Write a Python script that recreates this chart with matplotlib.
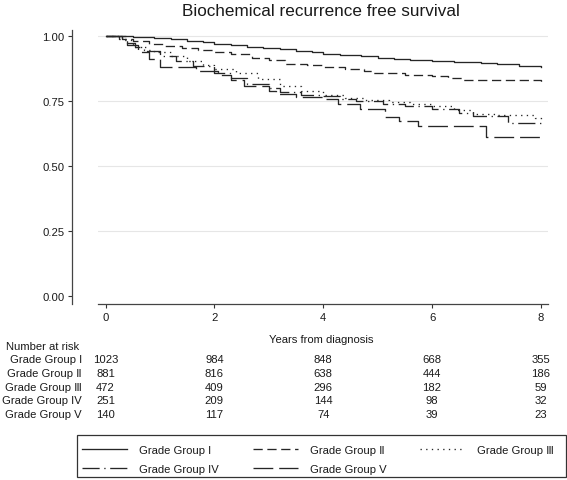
import matplotlib
matplotlib.use("Agg")
import matplotlib.pyplot as plt
import matplotlib.transforms as mtransforms

plt.rcParams['font.family'] = ['Liberation Sans', 'DejaVu Sans']

# survival curves (Kaplan-Meier steps)
t1 = [0, 0.5, 0.9, 1.2, 1.5, 1.8, 2.0, 2.3, 2.6, 2.9, 3.2, 3.5, 3.8, 4.0, 4.3, 4.7, 5.0, 5.3, 5.6, 6.0, 6.4, 6.9, 7.2, 7.6, 8.0]
s1 = [1.0, 0.998, 0.993, 0.988, 0.982, 0.976, 0.971, 0.966, 0.960, 0.955, 0.950, 0.944, 0.938, 0.932, 0.926, 0.923, 0.918, 0.912, 0.908, 0.903, 0.900, 0.897, 0.893, 0.886, 0.881]

t2 = [0, 0.3, 0.5, 0.8, 1.1, 1.4, 1.7, 2.0, 2.3, 2.7, 3.0, 3.3, 3.7, 4.0, 4.4, 4.75, 4.9, 5.5, 6.0, 6.3, 6.55, 7.0, 7.5, 8.0]
s2 = [1.0, 0.99, 0.98, 0.972, 0.963, 0.955, 0.946, 0.938, 0.93, 0.918, 0.908, 0.895, 0.888, 0.88, 0.874, 0.868, 0.858, 0.852, 0.846, 0.84, 0.832, 0.832, 0.83, 0.82]

t3 = [0, 0.3, 0.5, 0.7, 0.9, 1.2, 1.5, 1.8, 2.0, 2.4, 2.8, 3.2, 3.6, 4.0, 4.4, 4.75, 5.2, 5.6, 6.0, 6.4, 6.75, 7.2, 7.9, 8.0]
s3 = [1.0, 0.985, 0.96, 0.948, 0.938, 0.922, 0.906, 0.89, 0.874, 0.86, 0.834, 0.81, 0.79, 0.772, 0.762, 0.755, 0.745, 0.738, 0.73, 0.716, 0.70, 0.697, 0.685, 0.68]

t4 = [0, 0.25, 0.4, 0.55, 0.75, 1.0, 1.3, 1.6, 2.0, 2.3, 2.6, 3.0, 3.2, 3.6, 4.0, 4.3, 4.6, 5.1, 5.5, 6.0, 6.5, 6.75, 7.4, 8.0]
s4 = [1.0, 0.99, 0.975, 0.96, 0.945, 0.925, 0.905, 0.885, 0.86, 0.84, 0.815, 0.80, 0.785, 0.775, 0.77, 0.76, 0.752, 0.738, 0.73, 0.718, 0.705, 0.692, 0.665, 0.663]

t5 = [0, 0.4, 0.6, 0.8, 1.0, 1.67, 2.07, 2.3, 2.54, 3.0, 3.14, 3.5, 4.0, 4.27, 4.67, 5.14, 5.4, 5.74, 7.0, 8.0]
s5 = [1.0, 0.967, 0.938, 0.913, 0.88, 0.868, 0.849, 0.832, 0.81, 0.79, 0.778, 0.765, 0.759, 0.74, 0.718, 0.688, 0.672, 0.656, 0.612, 0.61]

groups = ["Grade Group I", "Grade Group \u2161", "Grade Group \u2162", "Grade Group IV", "Grade Group V"]

# number at risk table
risk_times = [0, 2, 4, 6, 8]
risk_1 = [1023, 984, 848, 668, 355]
risk_2 = [881, 816, 638, 444, 186]
risk_3 = [472, 409, 296, 182, 59]
risk_4 = [251, 209, 144, 98, 32]
risk_5 = [140, 117, 74, 39, 23]

times = [t1, t2, t3, t4, t5]
surv = [s1, s2, s3, s4, s5]
risks = [risk_1, risk_2, risk_3, risk_4, risk_5]
dashes = [(None, None), (7, 3.5), (1, 3.3), (13, 3.5, 1, 3.5), (15, 4.5)]

fs = 8.1
txt = '#1a1a1a'

fig = plt.figure(figsize=(5.67, 4.81), dpi=100)
ax = fig.add_axes([97.5 / 567, 1 - 305 / 481, 450.5 / 567, 274 / 481])

ax.set_xlim(-0.147, 8.13)
ax.set_ylim(-0.031, 1.024)
for g in [0.25, 0.5, 0.75, 1.0]:
    ax.axhline(g, color='#e6e6e6', lw=0.8, zorder=0)

lines = []
for t, s, d, name in zip(times, surv, dashes, groups):
    ln, = ax.plot(t, s, drawstyle='steps-post', color='#262626', lw=0.95, label=name)
    if d[0] is not None:
        ln.set_dashes(d)
    lines.append(ln)

ax.set_xticks(risk_times)
ax.set_yticks([0, 0.25, 0.5, 0.75, 1.0])
ax.set_yticklabels(["0.00", "0.25", "0.50", "0.75", "1.00"])
ax.tick_params(labelsize=fs, labelcolor=txt, length=3, width=0.8, color='#333333', pad=2.5)
for sp in ['top', 'right']:
    ax.spines[sp].set_visible(False)
ax.spines['left'].set_position(('outward', 18.4))
ax.spines['left'].set_bounds(-0.031, 1.024)
for sp in ['left', 'bottom']:
    ax.spines[sp].set_color('#444444')
    ax.spines[sp].set_linewidth(0.9)

fig.text(321 / 567, 1 - 12 / 481, "Biochemical recurrence free survival", ha='center', va='center',
         fontsize=12.3, color=txt)
fig.text(321 / 567, 1 - 340 / 481, "Years from diagnosis", ha='center', va='center', fontsize=fs, color=txt)

# risk table
trans = mtransforms.blended_transform_factory(ax.transData, fig.transFigure)
fig.text(6 / 567, 1 - 347 / 481, "Number at risk", ha='left', va='center', fontsize=fs, color=txt)
row_y = [360, 374, 388, 401, 415]
for name, r, y in zip(groups, risks, row_y):
    fig.text(82 / 567, 1 - y / 481, name, ha='right', va='center', fontsize=fs, color=txt)
    for xt, n in zip(risk_times, r):
        ax.text(xt, 1 - y / 481, str(n), transform=trans, ha='center', va='center', fontsize=fs, color=txt)

# legend: entries laid out row by row, frame drawn as a separate box
order = [0, 3, 1, 4, 2]
leg = fig.legend([lines[i] for i in order], [groups[i] for i in order], ncol=3,
                 loc='center', bbox_to_anchor=(82 / 567, 1 - 460.5 / 481, 472 / 567, 0),
                 mode='expand', fontsize=fs, handlelength=4.0, handletextpad=1.05,
                 borderpad=0, labelspacing=0.75, frameon=False, borderaxespad=0,
                 labelcolor=txt)
fig.add_artist(plt.Rectangle((77 / 567, 1 - 478 / 481), 489 / 567, 42 / 481,
                             transform=fig.transFigure, fill=False,
                             ec='#333333', lw=0.9))

fig.savefig("out.png", dpi=100)
